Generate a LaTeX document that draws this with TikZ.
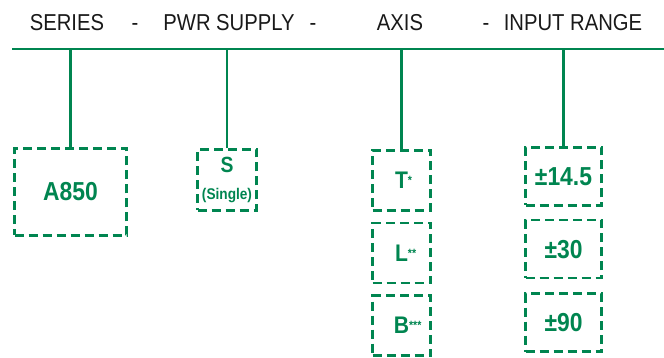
\documentclass[tikz,border=0pt]{standalone}
\usepackage{fontspec}
\setmainfont{Liberation Sans}[FakeStretch=0.88]
\usepackage{tikz}
\usetikzlibrary{positioning}
\definecolor{mygreen}{RGB}{0,133,80}

\begin{document}
\begin{tikzpicture}[x=1pt,y=1pt,
    every node/.style={inner sep=0pt},
    head/.style={font=\fontsize{23}{23}\selectfont,text=black!90,text height=16pt,text depth=4pt},
    optbox/.style={draw=mygreen,line width=2.6pt,dash pattern=on 9pt off 5pt,text=mygreen,font=\bfseries\fontsize{26}{26}\selectfont,align=center},
    link/.style={draw=mygreen,line width=2.4pt}]
    \useasboundingbox (0,0) rectangle (664,358);
    % header
    \node[head] (series) at (67,333) {SERIES};
    \node[head] (d1) at (135,333) {-};
    \node[head] (pwr) at (229,333) {PWR SUPPLY};
    \node[head] (d2) at (313,333) {-};
    \node[head] (axis) at (400,333) {AXIS};
    \node[head] (d3) at (486,333) {-};
    \node[head] (range) at (573,333) {INPUT RANGE};
    \coordinate (bar) at (12,309);
    \coordinate (barend) at (664,309);
    \draw[link] (bar) -- (barend);
    % option boxes
    \node[optbox,minimum width=112pt,minimum height=87pt] (a850) at (70.5,166) {A850};
    \node[optbox,minimum width=59pt,minimum height=61pt] (single) at (227,178) {\fontsize{22}{22}\selectfont S\\[1pt]{\fontsize{15.5}{15.5}\selectfont(Single)}};
    \node[optbox,minimum width=58pt,minimum height=60pt] (axt) at (401.5,177.5) {\fontsize{24}{24}\selectfont T\rlap{\raisebox{4pt}{\fontsize{12}{12}\selectfont*}}};
    \node[optbox,minimum width=58pt,minimum height=60pt,below=10pt of axt] (axl) {\fontsize{24}{24}\selectfont L\rlap{\raisebox{4pt}{\fontsize{12}{12}\selectfont**}}};
    \node[optbox,minimum width=58pt,minimum height=60pt,below=10pt of axl] (axb) {\fontsize{24}{24}\selectfont B\rlap{\raisebox{4pt}{\fontsize{12}{12}\selectfont***}}};
    \node[optbox,minimum width=76pt,minimum height=58pt] (r145) at (563.5,181.5) {±14.5};
    \node[optbox,minimum width=76pt,minimum height=58pt,below=12pt of r145] (r30) {±30};
    \node[optbox,minimum width=76pt,minimum height=58pt,below=13pt of r30] (r90) {±90};
    % links to the bar
    \foreach \n in {a850,single,axt,r145} {
        \draw[link] (\n.north) -- (\n.north |- bar);
    }
\end{tikzpicture}
\end{document}
